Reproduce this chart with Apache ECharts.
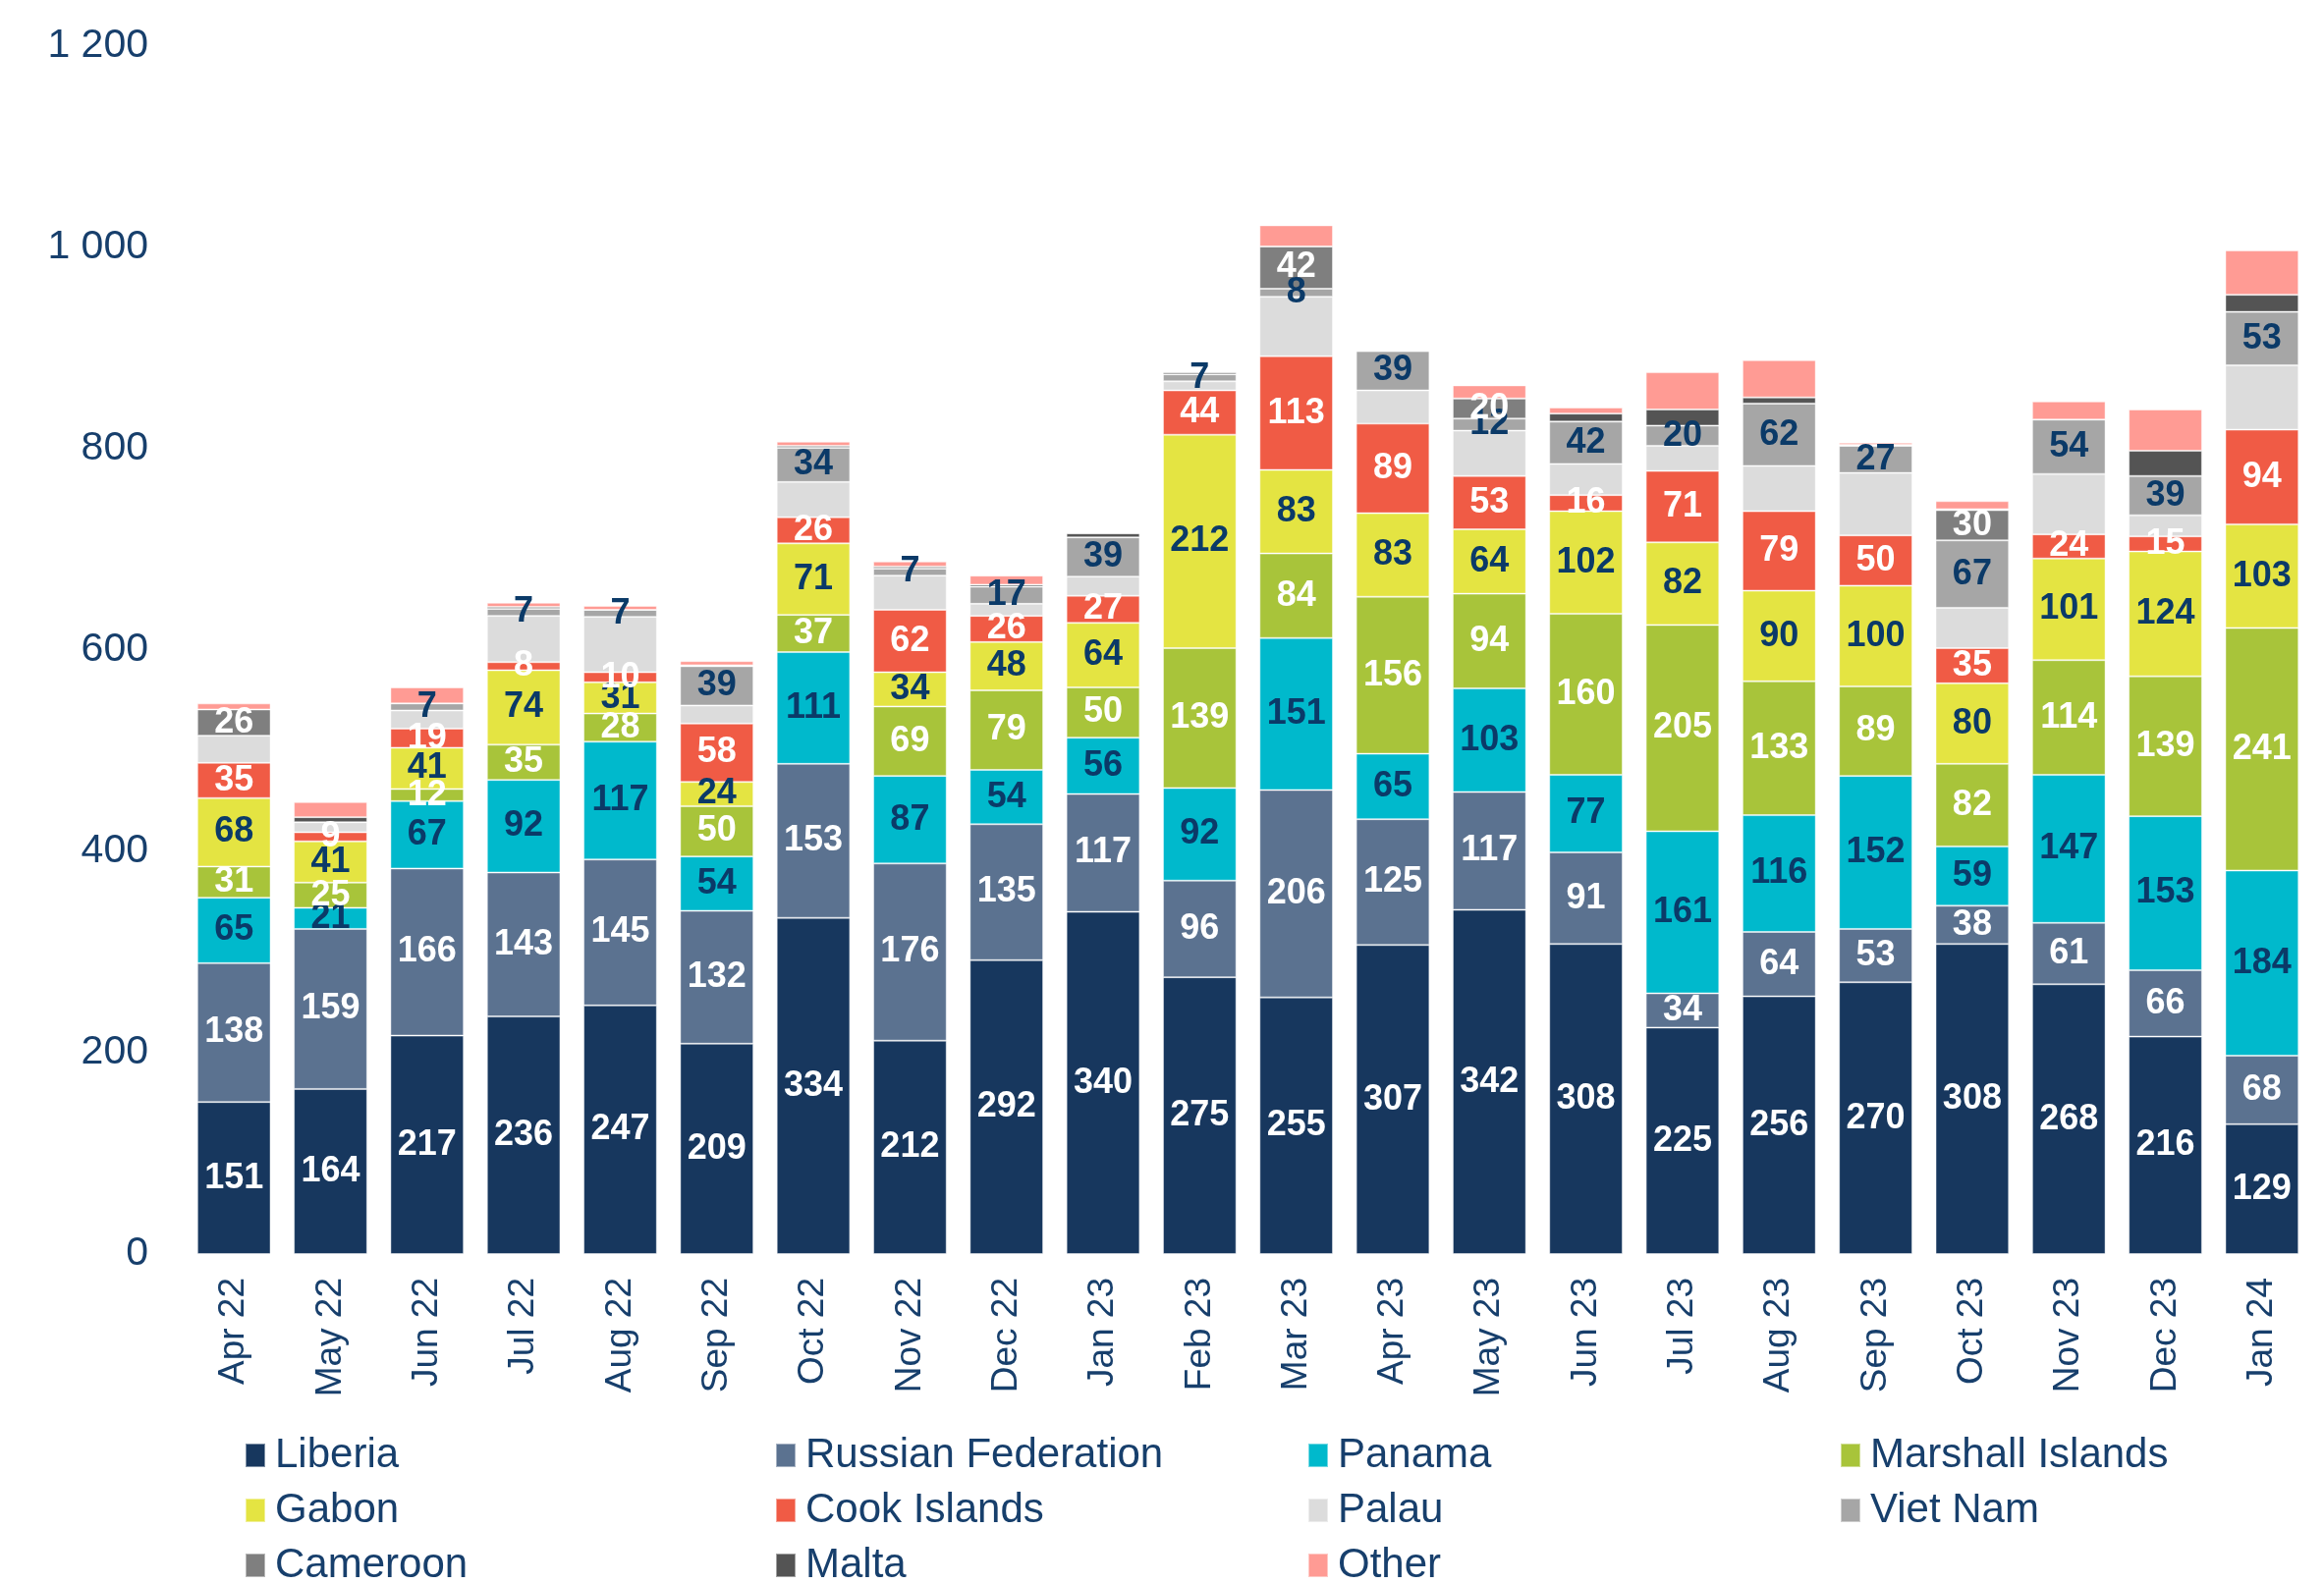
<!DOCTYPE html>
<html>
<head>
<meta charset="utf-8">
<script src="https://cdn.jsdelivr.net/npm/echarts@6/dist/echarts.min.js"></script>
<style>
  html, body { margin: 0; padding: 0; background: #fff; }
  #chart { width: 2366px; height: 1613px; }
</style>
</head>
<body>
<div id="chart"></div>
<script>
  // months on the x axis
  var months = ['Apr 22','May 22','Jun 22','Jul 22','Aug 22','Sep 22','Oct 22','Nov 22','Dec 22','Jan 23','Feb 23',
                'Mar 23','Apr 23','May 23','Jun 23','Jul 23','Aug 23','Sep 23','Oct 23','Nov 23','Dec 23','Jan 24']
  var yTicks = [0, 200, 400, 600, 800, 1000, 1200]

  // values per flag
  var liberia  = [151,164,217,236,247,209,334,212,292,340,275,255,307,342,308,225,256,270,308,268,216,129]
  var russia   = [138,159,166,143,145,132,153,176,135,117,96,206,125,117,91,34,64,53,38,61,66,68]
  var panama   = [65,21,67,92,117,54,111,87,54,56,92,151,65,103,77,161,116,152,59,147,153,184]
  var marshall = [31,25,12,35,28,50,37,69,79,50,139,84,156,94,160,205,133,89,82,114,139,241]
  var gabon    = [68,41,41,74,31,24,71,34,48,64,212,83,83,64,102,82,90,100,80,101,124,103]
  var cook     = [35,9,19,8,10,58,26,62,26,27,44,113,89,53,16,71,79,50,35,24,15,94]
  var palau    = [27,10,18,46,55,18,35,34,12,19,9,59,33,45,31,25,45,62,40,60,21,64]
  var vietnam  = [0,0,7,7,7,39,34,7,17,39,7,8,39,12,42,20,62,27,67,54,39,53]
  var cameroon = [26,0,0,0,0,0,0,0,0,0,0,42,0,20,0,0,0,0,30,0,0,0]
  var malta    = [0,5,0,2,0,1,2,2,2,4,2,0,0,0,8,16,6,1,1,0,25,17]
  var other    = [6,15,16,4,4,4,4,5,9,0,0,21,0,13,6,37,37,2,8,18,41,44]

  var navy = '#173f6c'
  var font = '"Liberation Sans", Arial, sans-serif'

  // name, data, colour, label colour (null = no labels)
  var flags = [
    ['Liberia', liberia, '#17375e', '#ffffff'],
    ['Russian Federation', russia, '#5b7290', '#ffffff'],
    ['Panama', panama, '#00b9cc', '#0b3a68'],
    ['Marshall Islands', marshall, '#a8c43a', '#ffffff'],
    ['Gabon', gabon, '#e4e442', '#0b3a68'],
    ['Cook Islands', cook, '#f05b45', '#ffffff'],
    ['Palau', palau, '#dcdcdc', null],
    ['Viet Nam', vietnam, '#a6a6a6', '#0b3a68'],
    ['Cameroon', cameroon, '#7f7f7f', '#ffffff'],
    ['Malta', malta, '#545454', null],
    ['Other', other, '#ff9b94', null]
  ]

  var series = flags.map(function (f) {
    return {
      name: f[0],
      type: 'bar',
      stack: 'total',
      barCategoryGap: '24%',
      data: f[1],
      itemStyle: { color: f[2], borderColor: 'rgba(255,255,255,0.45)', borderWidth: 1 },
      label: {
        show: f[3] !== null,
        position: 'inside',
        color: f[3] || '#fff',
        fontFamily: font,
        fontWeight: 'bold',
        fontSize: 36,
        formatter: function (p) { return p.value > 0 ? p.value : '' }
      }
    }
  })

  // legend: 4 columns x 3 rows, one small legend per entry
  var colLeft = [249, 789, 1331, 1873]
  var rowTop = [1461, 1517, 1573]
  var legends = flags.map(function (f, i) {
    return {
      data: [f[0]],
      left: colLeft[i % 4],
      top: rowTop[Math.floor(i / 4)],
      padding: 0,
      itemWidth: 20,
      itemHeight: 24,
      icon: 'rect',
      selectedMode: false,
      textStyle: { fontFamily: font, fontSize: 42, color: navy, padding: [0, 0, 0, 5] }
    }
  })

  var chart = echarts.init(document.getElementById('chart'))
  chart.setOption({
    animation: false,
    backgroundColor: '#fff',
    grid: { left: 189, right: 14, top: 47, bottom: 336, containLabel: false },
    legend: legends,
    xAxis: {
      type: 'category',
      data: months,
      axisLine: { show: false },
      axisTick: { show: false },
      axisLabel: { rotate: 90, margin: 24, fontFamily: font, fontSize: 37, color: navy }
    },
    yAxis: {
      type: 'value',
      min: yTicks[0],
      max: yTicks[yTicks.length - 1],
      interval: 200,
      splitLine: { show: false },
      axisLine: { show: false },
      axisTick: { show: false },
      axisLabel: {
        margin: 38,
        fontFamily: font,
        fontSize: 41,
        color: navy,
        formatter: function (v) { return String(v).replace(/\B(?=(\d{3})+(?!\d))/g, ' ') }
      }
    },
    series: series
  })
</script>
</body>
</html>
